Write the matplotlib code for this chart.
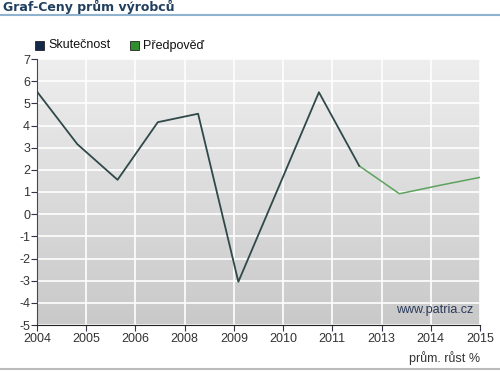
import numpy as np
import matplotlib
matplotlib.use("Agg")
import matplotlib.pyplot as plt
from matplotlib.patches import Rectangle
from matplotlib.lines import Line2D
from matplotlib.colors import LinearSegmentedColormap

years = [2004, 2005, 2006, 2007, 2008, 2009, 2010, 2011, 2012, 2013, 2014, 2015]
actual = [5.53, 3.16, 1.55, 4.15, 4.53, -3.05, 1.22, 5.5, 2.18]
forecast_years = [2012, 2013, 2014, 2015]
forecast = [2.18, 0.92, 1.3, 1.66]
tick_labels = ["2004", "2005", "2006", "2008", "2009", "2010", "2011", "2013", "2014", "2015"]
y_ticks = list(range(-5, 8))

plt.rcParams['font.family'] = ['Liberation Sans', 'DejaVu Sans']
plt.rcParams['axes.unicode_minus'] = False

W, H = 500, 371
fig = plt.figure(figsize=(W / 100, H / 100), dpi=100)
fig.patch.set_facecolor('white')

ax = fig.add_axes([37 / W, 1 - 325 / H, (480 - 37) / W, (325 - 59) / H])

xa = [years.index(y) for y in years[:len(actual)]]
xf = [years.index(y) for y in forecast_years]

ax.set_xlim(0, len(years) - 1)
ax.set_ylim(-5, 7)

# gradient background
grad = np.linspace(0, 1, 256).reshape(-1, 1)
cmap = LinearSegmentedColormap.from_list('bg', ['#c9c9c9', '#eeeeee'])
ax.imshow(grad, extent=[0, len(years) - 1, -5, 7], origin='lower', aspect='auto',
          cmap=cmap, zorder=0)

tick_pos = np.linspace(0, len(years) - 1, len(tick_labels))
ax.set_xticks(tick_pos)
ax.set_xticklabels(tick_labels)
ax.set_yticks(y_ticks)
ax.grid(True, color='white', linewidth=1.2, zorder=1)
ax.set_axisbelow(True)

ax.plot(xa, actual, color='#2f4848', linewidth=1.3, zorder=3)
ax.plot(xf, forecast, color='#5da35d', linewidth=1.1, zorder=2)

for s in ['top', 'right']:
    ax.spines[s].set_visible(False)
ax.spines['left'].set_color('#3a4a66')
ax.spines['bottom'].set_color('#222222')
ax.tick_params(axis='both', direction='out', length=4, color='#333344',
               labelsize=9, labelcolor='#333333', pad=2)
ax.tick_params(axis='y', pad=1)

ax.text(0.985, 0.035, 'www.patria.cz', transform=ax.transAxes, ha='right', va='bottom',
        fontsize=9, color='#2a3a5a', zorder=5)

# title
fig.text(3 / W, 1 - 7 / H, 'Graf-Ceny prům výrobců', fontsize=9, fontweight='bold',
         color='#213f5e', ha='left', va='center', family=['DejaVu Sans'])
fig.add_artist(Line2D([0, 1], [1 - 14.5 / H, 1 - 14.5 / H], transform=fig.transFigure,
                      color='#8fb3cf', linewidth=1.5))
fig.add_artist(Line2D([0, 1], [1 - 368.5 / H, 1 - 368.5 / H], transform=fig.transFigure,
                      color='#bbbbbb', linewidth=1.5))

# legend
def legend_item(x, color, label):
    fig.add_artist(Rectangle((x / W, 1 - 50 / H), 9 / W, 9 / H, transform=fig.transFigure,
                             facecolor=color, edgecolor='#222222', linewidth=0.6))
    fig.text((x + 13) / W, 1 - 45.5 / H, label, fontsize=9, color='#111111',
             ha='left', va='center')

legend_item(35, '#142a4a', 'Skutečnost')
legend_item(130, '#2f8f2f', 'Předpověď')

fig.text(480 / W, 1 - 358 / H, 'prům. růst %', fontsize=9, color='#333333',
         ha='right', va='center')

fig.savefig('out.png', dpi=100)
